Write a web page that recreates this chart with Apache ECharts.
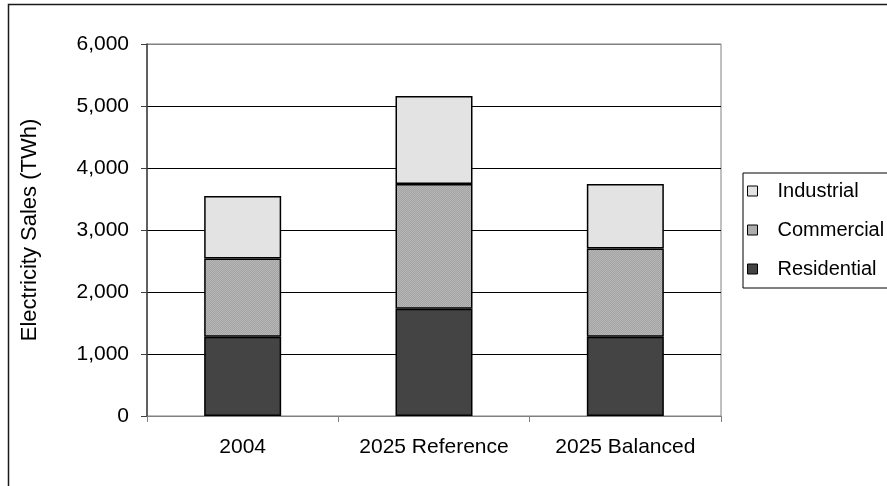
<!DOCTYPE html>
<html>
<head>
<meta charset="utf-8">
<script src="https://cdn.jsdelivr.net/npm/echarts@6/dist/echarts.min.js"></script>
<style>
  html, body { margin: 0; padding: 0; background: #fff; }
  #chart { width: 887px; height: 486px; }
</style>
</head>
<body>
<div id="chart"></div>
<script>
// Electricity sales by sector, stacked per scenario (TWh)
var categories = ['2004', '2025 Reference', '2025 Balanced'];
var residential = [1280, 1730, 1280];
var commercial = [1260, 2010, 1420];
var industrial = [1010, 1420, 1040];
var yTicks = [0, 1000, 2000, 3000, 4000, 5000, 6000];

var FONT = '"Liberation Sans", Arial, sans-serif';

// fine dither texture for the commercial segments
function ditherPattern(a, b) {
  var c = document.createElement('canvas');
  c.width = 2; c.height = 2;
  var g = c.getContext('2d');
  g.fillStyle = a; g.fillRect(0, 0, 2, 2);
  g.fillStyle = b; g.fillRect(0, 0, 1, 1); g.fillRect(1, 1, 1, 1);
  return { image: c, repeat: 'repeat' };
}

var chart = echarts.init(document.getElementById('chart'), null, { renderer: 'canvas' });

var segStyle = function (color) {
  return { color: color, borderColor: '#000', borderWidth: 1.5 };
};

chart.setOption({
  animation: false,
  backgroundColor: '#fff',
  textStyle: { fontFamily: FONT, color: '#000' },
  graphic: [{
    type: 'rect',
    shape: { x: 8.5, y: 4.5, width: 1000, height: 1000 },
    style: { fill: 'none', stroke: '#1a1a1a', lineWidth: 1.5 },
    silent: true,
    z: 100
  }],
  grid: {
    left: 147, right: 166, top: 44, bottom: 70,
    show: true, borderColor: '#808080', borderWidth: 1
  },
  legend: {
    orient: 'vertical',
    left: 743, top: 173,
    data: ['Industrial', 'Commercial', 'Residential'],
    icon: 'rect',
    itemWidth: 10, itemHeight: 10,
    itemGap: 15,
    padding: [6, 60, 7, 4],
    borderColor: '#000', borderWidth: 1,
    backgroundColor: '#fff',
    itemStyle: { borderColor: '#000', borderWidth: 1 },
    textStyle: { fontFamily: FONT, fontSize: 20, color: '#000', lineHeight: 24, padding: [0, 0, 0, 15] }
  },
  xAxis: {
    type: 'category',
    data: categories,
    axisLine: { lineStyle: { color: '#808080', width: 1 } },
    axisTick: { show: true, length: 6, lineStyle: { color: '#808080' } },
    axisLabel: { fontFamily: FONT, fontSize: 21, color: '#000', margin: 21, interval: 0 },
    splitLine: { show: false }
  },
  yAxis: {
    type: 'value',
    min: yTicks[0], max: yTicks[yTicks.length - 1], interval: 1000,
    name: 'Electricity Sales (TWh)',
    nameLocation: 'middle',
    nameRotate: 90,
    nameGap: 106,
    nameTextStyle: { fontFamily: FONT, fontSize: 22, color: '#000' },
    axisLine: { show: true, lineStyle: { color: '#404040', width: 1.5 } },
    axisTick: { show: true, length: 6, lineStyle: { color: '#404040' } },
    axisLabel: {
      fontFamily: FONT, fontSize: 21, color: '#000', margin: 18,
      formatter: function (v) { return v.toLocaleString('en-US'); }
    },
    splitLine: {
      show: true,
      lineStyle: { color: ['#808080', '#000', '#000', '#000', '#000', '#000', '#808080'], width: 1 }
    }
  },
  series: [
    {
      name: 'Residential', type: 'bar', stack: 'sales', data: residential,
      barWidth: 77, itemStyle: segStyle('#444444')
    },
    {
      name: 'Commercial', type: 'bar', stack: 'sales', data: commercial,
      barWidth: 77, itemStyle: segStyle(ditherPattern('#a4a4a4', '#b6b6b6'))
    },
    {
      name: 'Industrial', type: 'bar', stack: 'sales', data: industrial,
      barWidth: 77, itemStyle: segStyle('#e3e3e3')
    }
  ]
});
</script>
</body>
</html>
